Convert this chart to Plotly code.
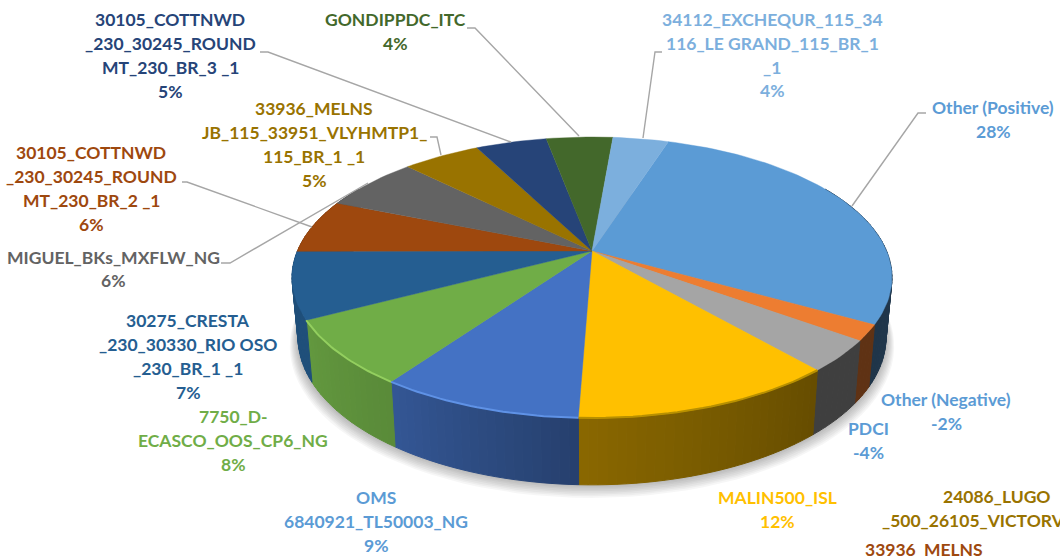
import math
import plotly.graph_objects as go

# ---- data (share of the pie, in percent, clockwise from the first slice) ----
slice_names = ["Other (Positive)", "Other (Negative)", "PDCI", "MALIN500_ISL", "OMS 6840921_TL50003_NG",
               "7750_D-ECASCO_OOS_CP6_NG", "30275_CRESTA_230_30330_RIO OSO_230_BR_1 _1",
               "30105_COTTNWD_230_30245_ROUNDMT_230_BR_2 _1", "MIGUEL_BKs_MXFLW_NG",
               "33936_MELNSJB_115_33951_VLYHMTP1_115_BR_1 _1", "30105_COTTNWD_230_30245_ROUNDMT_230_BR_3 _1",
               "GONDIPPDC_ITC", "34112_EXCHEQUR_115_34116_LE GRAND_115_BR_1 _1"]
slice_values = [28.3, 1.8, 3.6, 12.0, 9.2, 7.5, 7.7, 6.2, 6.3, 5.0, 4.6, 4.3, 3.6]
slice_colors = ["#5b9bd5", "#ed7d31", "#a5a5a5", "#ffc000", "#4472c4", "#70ad47", "#255e91",
                "#9e480e", "#636363", "#997300", "#264478", "#43682b", "#7cafdd"]
# darkening of the side wall at the start and end of each slice
side_shade = [(0.42, 0.34), (0.40, 0.40), (0.38, 0.38), (0.40, 0.54), (0.56, 0.76), (0.80, 0.88),
              (0.84, 0.84), (0.8, 0.8), (0.8, 0.8), (0.8, 0.8), (0.8, 0.8), (0.8, 0.8), (0.8, 0.8)]
rim_tint = [None, None, None, "#b89000", "#5f92e6", "#93cf5f", None, None, None, None, None, None, None]

START_ANGLE = 17.8

# ---- labels: (colour, centre, [(line, y), ...]) ----
C_BLUE = "#5b9bd5"
labels = [
    ("#264478", 170, [("30105_COTTNWD", 19), ("_230_30245_ROUND", 43), ("MT_230_BR_3 _1", 67), ("5%", 91)]),
    ("#43682b", 395, [("GONDIPPDC_ITC", 19), ("4%", 43)]),
    ("#7cafdd", 772, [("34112_EXCHEQUR_115_34", 19), ("116_LE GRAND_115_BR_1", 43), ("_1", 67), ("4%", 90)]),
    (C_BLUE, 993, [("Other (Positive)", 107), ("28%", 131)]),
    ("#997300", 314, [("33936_MELNS", 108), ("JB_115_33951_VLYHMTP1_", 132), ("115_BR_1 _1", 156), ("5%", 180)]),
    ("#9e480e", 91, [("30105_COTTNWD", 152), ("_230_30245_ROUND", 176), ("MT_230_BR_2 _1", 200), ("6%", 224)]),
    ("#636363", 113, [("MIGUEL_BKs_MXFLW_NG", 257), ("6%", 280)]),
    ("#255e91", 188, [("30275_CRESTA", 320), ("_230_30330_RIO OSO", 344), ("_230_BR_1 _1", 368), ("7%", 392)]),
    ("#70ad47", 233, [("7750_D-", 416), ("ECASCO_OOS_CP6_NG", 440), ("8%", 464)]),
    (C_BLUE, 376, [("OMS", 497), ("6840921_TL50003_NG", 521), ("9%", 545)]),
    ("#ffc000", 777, [("MALIN500_ISL", 497), ("12%", 521)]),
    (C_BLUE, 946, [("Other (Negative)", 399), ("-2%", 423)]),
    (C_BLUE, 868, [("PDCI", 428), ("-4%", 452)]),
    ("#997300", 997, [("24086_LUGO", 496)]),
    ("#997300", 989, [("_500_26105_VICTORVILLE", 520)]),
    ("#9e480e", 924, [("33936_MELNS", 549)]),
]
leaders = [
    [(260, 52), (268, 52), (511, 142)],
    [(467, 28), (475, 28), (579, 136)],
    [(662, 52), (655, 52), (643, 138)],
    [(926, 113), (918, 113), (852, 206)],
    [(430, 137), (437, 137), (441, 155)],
    [(182, 182), (187, 182), (312, 227)],
    [(221, 263), (230, 263), (368, 183)],
]

# ---- projection of the tilted disc ----
CX, CY = 592, 251
A, B, K = 294.6, 135.5, 0.1886


def top(theta):
    t = math.radians(theta)
    X, Y = math.sin(t), math.cos(t)
    w = 1 + K * Y
    return CX + A * X / w, CY - B * Y / w


def bottom(theta):
    x, y = top(theta)
    return CX + 0.98 * (x - CX), CY + 1.05 * (y - CY) + 58.5


def shade(hex_color, f):
    r, g, b = [int(hex_color[i:i + 2], 16) for i in (1, 3, 5)]
    return f"rgb({r * f:.0f},{g * f:.0f},{b * f:.0f})"


def poly(points, color, width=0.6):
    xs = [p[0] for p in points]
    ys = [p[1] for p in points]
    return go.Scatter(x=xs, y=ys, mode="lines", fill="toself", fillcolor=color,
                      line=dict(color=color, width=width), hoverinfo="skip", showlegend=False)


fig = go.Figure()

# soft shadow under the disc
ring = [bottom(a) for a in range(0, 361, 3)]
for i in range(8, 0, -1):
    s = 1 + 0.0035 * i
    pts = [(CX + (x - CX) * s, 330 + (y - 330) * s + i * 1.1) for x, y in ring]
    fig.add_trace(go.Scatter(x=[p[0] for p in pts], y=[p[1] for p in pts], mode="lines", fill="toself",
                             fillcolor="rgba(0,0,0,0.035)", line=dict(width=0),
                             hoverinfo="skip", showlegend=False))

# slice boundaries from the values
scale = 360 / sum(slice_values)
edges = [START_ANGLE]
for v in slice_values:
    edges.append(edges[-1] + v * scale)

# side wall, split into strips to carry the gradient
for i, color in enumerate(slice_colors):
    a0, a1 = edges[i], edges[i + 1]
    lo, hi = max(a0, 60), min(a1, 300)
    if hi <= lo:
        continue
    n = max(1, int((hi - lo) / 1.5))
    for j in range(n):
        t0 = lo + (hi - lo) * j / n
        t1 = lo + (hi - lo) * (j + 1) / n
        f0, f1 = side_shade[i]
        f = f0 + (f1 - f0) * (j + 0.5) / n
        fig.add_trace(poly([top(t0), top(t1), bottom(t1), bottom(t0), top(t0)], shade(color, f), 1))

# top faces
for i, color in enumerate(slice_colors):
    a0, a1 = edges[i], edges[i + 1]
    n = max(2, int((a1 - a0) / 1.5))
    arc = [top(a0 + (a1 - a0) * j / n) for j in range(n + 1)]
    fig.add_trace(poly([(CX, CY)] + arc + [(CX, CY)], color, 0.4))

# bevel highlight on the front rim
for i, tint in enumerate(rim_tint):
    if tint is None:
        continue
    a0, a1 = edges[i], edges[i + 1]
    arc = [top(a0 + (a1 - a0) * j / 30) for j in range(31)]
    fig.add_trace(go.Scatter(x=[p[0] for p in arc], y=[p[1] for p in arc], mode="lines",
                             line=dict(color=tint, width=2), hoverinfo="skip", showlegend=False))

# leader lines
for seg in leaders:
    fig.add_trace(go.Scatter(x=[p[0] for p in seg], y=[p[1] for p in seg], mode="lines",
                             line=dict(color="#a6a6a6", width=1.4), hoverinfo="skip", showlegend=False))

# labels
for color, cx, lines in labels:
    for text, y in lines:
        fig.add_annotation(x=cx, y=y, text=text, showarrow=False, xref="x", yref="y",
                           xanchor="center", yanchor="middle",
                           font=dict(family="Lato", size=17.5, color=color, weight="bold"))

fig.update_layout(
    width=1060, height=556, margin=dict(l=0, r=0, t=0, b=0),
    paper_bgcolor="white", plot_bgcolor="white", showlegend=False,
    xaxis=dict(range=[0, 1060], visible=False, fixedrange=True),
    yaxis=dict(range=[556, 0], visible=False, fixedrange=True),
)
fig.write_html("out.html", config={"displayModeBar": False},
               post_script="document.body.style.margin='0';document.body.style.overflow='hidden';")
